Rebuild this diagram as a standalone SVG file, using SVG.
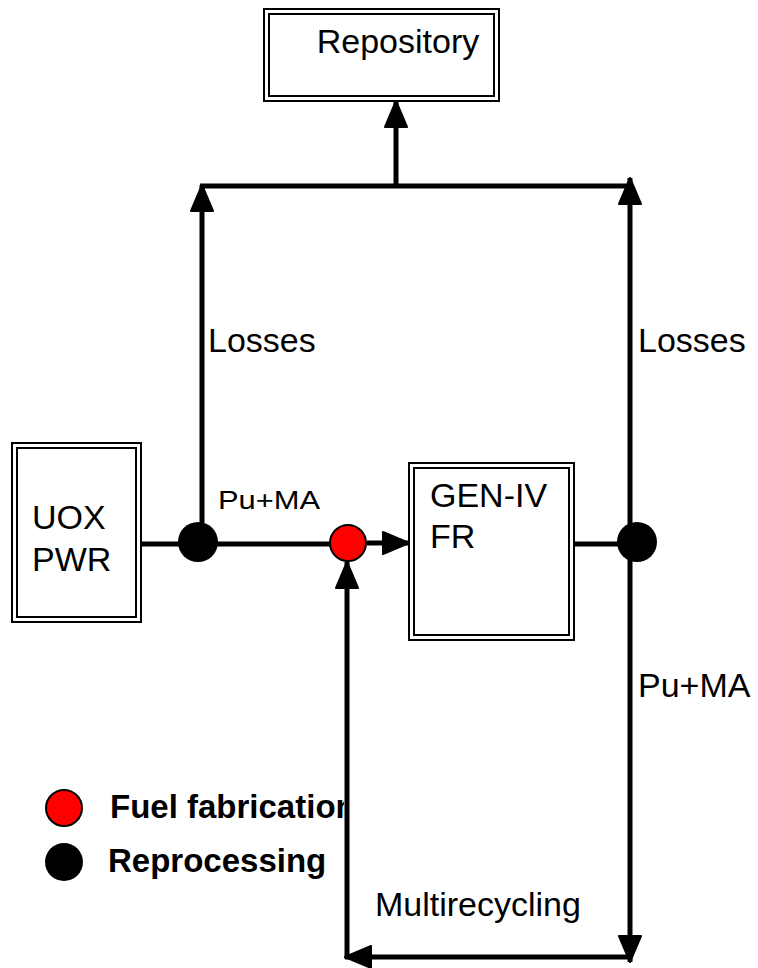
<svg xmlns="http://www.w3.org/2000/svg" width="758" height="968" viewBox="0 0 758 968">
<style>
.box{fill:#fff;stroke:#000;stroke-width:2}
.in{fill:none;stroke:#000;stroke-width:2}
.t{font-family:"Liberation Sans",Arial,sans-serif;font-size:34px;fill:#000}
.s{font-family:"Liberation Sans",Arial,sans-serif;font-size:26px;fill:#000}
.b{font-family:"Liberation Sans",Arial,sans-serif;font-size:33px;font-weight:bold;fill:#000}
.ln{stroke:#000;stroke-width:5;fill:none}
.arr{stroke:#000;stroke-width:5;fill:none;marker-end:url(#ah)}
</style>
<defs>
<marker id="ah" viewBox="0 0 28 24" refX="27" refY="12" markerWidth="28" markerHeight="24" orient="auto" markerUnits="userSpaceOnUse">
<path d="M1,1 L27,12 L1,23 z" fill="#000" stroke="#000" stroke-width="2" stroke-linejoin="round"/>
</marker>
<clipPath id="legclip"><rect x="0" y="770" width="344" height="60"/></clipPath>
</defs>
<rect width="758" height="968" fill="#fff"/>
<g id="connectors">
<line class="arr" x1="396" y1="186" x2="396" y2="101"/>
<line class="ln" x1="200" y1="186" x2="632" y2="186"/>
<line class="arr" x1="202" y1="542" x2="202" y2="185"/>
<line class="arr" x1="630" y1="542" x2="630" y2="178"/>
<line class="arr" x1="630" y1="542" x2="630" y2="962"/>
<line class="arr" x1="632" y1="957" x2="345" y2="957"/>
<line class="arr" x1="347" y1="959" x2="347" y2="562"/>
<line class="ln" x1="141" y1="544" x2="198" y2="544"/>
<line class="ln" x1="198" y1="544" x2="330" y2="544"/>
<line class="arr" x1="367" y1="543" x2="409" y2="543"/>
<line class="ln" x1="574" y1="544" x2="637" y2="544"/>
</g>
<g id="repository">
<rect class="box" x="264" y="9" width="235" height="92"/>
<rect class="in" x="269" y="14" width="225" height="82"/>
<text class="t" x="398" y="53" text-anchor="middle">Repository</text>
</g>
<g id="uox-pwr">
<rect class="box" x="12" y="443" width="129" height="179"/>
<rect class="in" x="17" y="448" width="119" height="169"/>
<text class="t" x="32" y="529">UOX</text>
<text class="t" x="32" y="571">PWR</text>
</g>
<g id="gen-iv">
<rect class="box" x="409" y="463" width="165" height="177"/>
<rect class="in" x="414" y="468" width="155" height="167"/>
<text class="t" x="430" y="507">GEN-IV</text>
<text class="t" x="430" y="548">FR</text>
</g>
<g id="reprocessing-1">
<circle cx="198" cy="542" r="20" fill="#000"/>
</g>
<g id="fabrication">
<circle cx="348" cy="543" r="18" fill="#ff0000" stroke="#000" stroke-width="2"/>
</g>
<g id="reprocessing-2">
<circle cx="637" cy="542" r="20" fill="#000"/>
</g>
<g id="labels">
<text class="t" x="208" y="352">Losses</text>
<text class="t" x="638" y="352">Losses</text>
<text class="s" x="218" y="509" textLength="102" lengthAdjust="spacingAndGlyphs">Pu+MA</text>
<text class="t" x="638" y="697">Pu+MA</text>
<text class="t" x="375" y="916">Multirecycling</text>
</g>
<g id="legend">
<circle cx="64" cy="808" r="18" fill="#ff0000" stroke="#000" stroke-width="2"/>
<text class="b" x="110" y="818" clip-path="url(#legclip)">Fuel fabrication</text>
<circle cx="64" cy="862" r="19" fill="#000"/>
<text class="b" x="108" y="872">Reprocessing</text>
</g>
</svg>
